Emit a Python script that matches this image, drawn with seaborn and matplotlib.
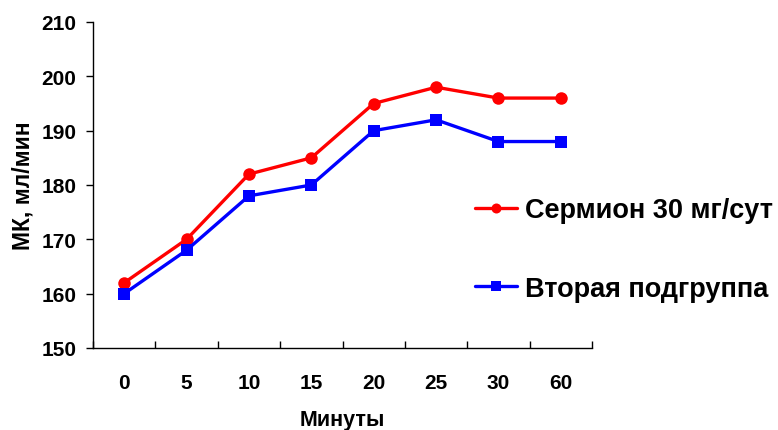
import matplotlib
matplotlib.use("Agg")
import matplotlib.pyplot as plt
import seaborn as sns
import pandas as pd
import numpy as np

minutes = ["0", "5", "10", "15", "20", "25", "30", "60"]
sermion = [162, 170, 182, 185, 195, 198, 196, 196]
second = [160, 168, 178, 180, 190, 192, 188, 188]
label_sermion = "Сермион 30 мг/сут"
label_second = "Вторая подгруппа"
y_ticks = [150, 160, 170, 180, 190, 200, 210]

sns.set_theme(style="white")
plt.rcParams['font.family'] = ['Liberation Sans', 'DejaVu Sans']
plt.rcParams['font.weight'] = 'bold'
plt.rcParams['text.color'] = 'black'

fig = plt.figure(figsize=(7.78, 4.31), dpi=100)
ax = fig.add_axes([93/778, 1-349/431, (592-93)/778, (349-23)/431])

df1 = pd.DataFrame({"x": minutes, "y": sermion})
df2 = pd.DataFrame({"x": minutes, "y": second})
sns.lineplot(data=df1, x="x", y="y", sort=False, color="#ff0000", marker="o",
             markersize=9, linewidth=2.4, markeredgewidth=0, ax=ax, label=label_sermion)
sns.lineplot(data=df2, x="x", y="y", sort=False, color="#0000ff", marker="s",
             markersize=9, linewidth=2.4, markeredgewidth=0, ax=ax, label=label_second)

ax.set_xlim(-0.5, len(minutes) - 0.5)
ax.set_ylim(150, 210)
ax.set_yticks(y_ticks)
ax.set_xticks(range(len(minutes)))
ax.set_xticklabels(minutes)
ax.set_xticks(np.arange(-0.5, len(minutes), 1.0), minor=True)
ax.tick_params(axis='x', which='major', length=0, pad=18, labelsize=15, labelcolor='black')
ax.tick_params(axis='x', which='minor', direction='in', length=5, width=1, color='black', bottom=True)
ax.tick_params(axis='y', which='major', direction='out', length=5, width=1, color='black',
               left=True, pad=7, labelsize=15, labelcolor='black')
for lbl in ax.get_xticklabels() + ax.get_yticklabels():
    lbl.set_fontweight('bold')

for s in ['top', 'right']:
    ax.spines[s].set_visible(False)
for s in ['left', 'bottom']:
    ax.spines[s].set_color('black')
    ax.spines[s].set_linewidth(1)

ax.set_xlabel("Минуты", fontsize=15.5, fontweight='bold', labelpad=12, color='black')
ax.set_ylabel("МК, мл/мин", fontsize=16.5, fontweight='bold', labelpad=5, color='black')

ax.get_legend().remove()
handles, labels = ax.get_legend_handles_labels()
fig.legend(handles, labels, loc='upper left', bbox_to_anchor=(475/778, 1-198/431),
           frameon=False, borderpad=0, borderaxespad=0, handlelength=1.55, handletextpad=0.3,
           labelspacing=1.95, markerscale=0.8, prop={'size': 19.5, 'weight': 'bold'})

fig.savefig("out.png", dpi=100)
